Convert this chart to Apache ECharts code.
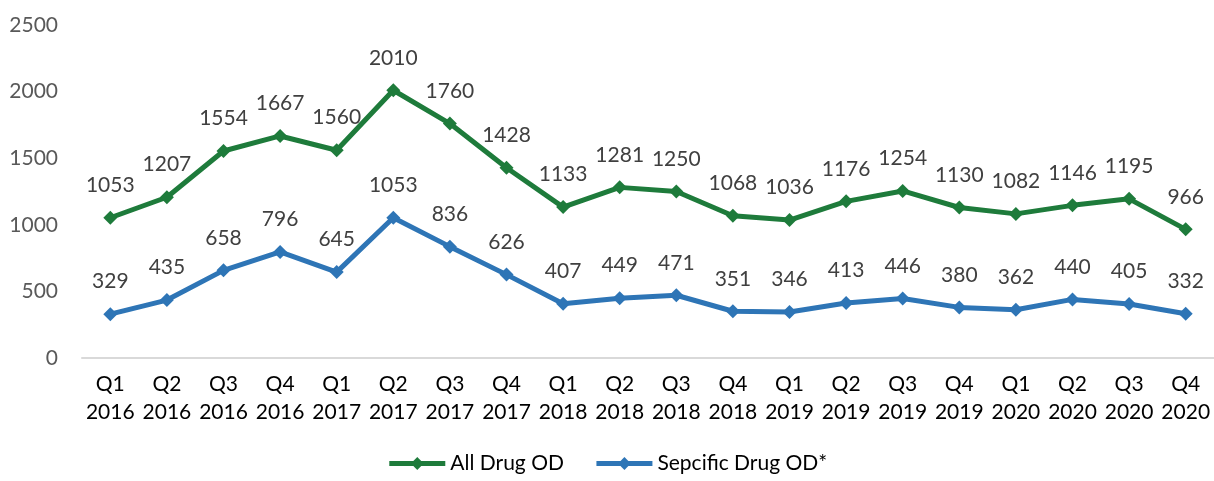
<!DOCTYPE html>
<html>
<head>
<meta charset="utf-8">
<style>
  html, body { margin: 0; padding: 0; background: #ffffff; }
  #chart { width: 1214px; height: 481px; }
</style>
<script src="https://cdn.jsdelivr.net/npm/echarts@6/dist/echarts.min.js"></script>
</head>
<body>
<div id="chart"></div>
<script>
// Quarterly overdose counts, 2016–2020
const quarters = ['Q1\n2016','Q2\n2016','Q3\n2016','Q4\n2016',
                  'Q1\n2017','Q2\n2017','Q3\n2017','Q4\n2017',
                  'Q1\n2018','Q2\n2018','Q3\n2018','Q4\n2018',
                  'Q1\n2019','Q2\n2019','Q3\n2019','Q4\n2019',
                  'Q1\n2020','Q2\n2020','Q3\n2020','Q4\n2020'];
const allDrugOD = [1053,1207,1554,1667,1560,2010,1760,1428,1133,1281,1250,1068,1036,1176,1254,1130,1082,1146,1195,966];
const specificDrugOD = [329,435,658,796,645,1053,836,626,407,449,471,351,346,413,446,380,362,440,405,332];
const seriesNames = ['All Drug OD', 'Sepcific Drug OD*'];
const yTicks = { min: 0, max: 2500, interval: 500 };

const FONT = 'Lato, "Open Sans", sans-serif';
const FS = 21;

const chart = echarts.init(document.getElementById('chart'), null, { renderer: 'canvas' });

function lineSeries(name, data, color) {
  return {
    name: name,
    type: 'line',
    data: data,
    symbol: 'diamond',
    symbolSize: 14,
    lineStyle: { color: color, width: 5 },
    itemStyle: { color: color },
    label: {
      show: true,
      position: 'top',
      distance: 15,
      color: '#404040',
      fontSize: FS,
      fontFamily: FONT
    },
    emphasis: { disabled: true },
    animation: false
  };
}

chart.setOption({
  backgroundColor: '#ffffff',
  grid: { left: 82, right: 0, top: 25, bottom: 123 },
  legend: {
    bottom: 2,
    left: 'center',
    itemWidth: 56,
    itemHeight: 16,
    itemGap: 30,
    lineStyle: { width: 5 },
    textStyle: { color: '#000000', fontSize: FS, fontFamily: FONT },
    data: seriesNames
  },
  xAxis: {
    type: 'category',
    data: quarters,
    boundaryGap: true,
    axisLine: { lineStyle: { color: '#d9d9d9', width: 2 } },
    axisTick: { show: false },
    axisLabel: {
      color: '#000000',
      fontSize: FS,
      fontFamily: FONT,
      lineHeight: 28,
      margin: 12,
      interval: 0
    }
  },
  yAxis: {
    type: 'value',
    min: yTicks.min,
    max: yTicks.max,
    interval: yTicks.interval,
    axisLine: { show: false },
    axisTick: { show: false },
    splitLine: { show: false },
    axisLabel: {
      color: '#595959',
      fontSize: FS,
      fontFamily: FONT,
      margin: 24,
      formatter: function (v) { return String(v); }
    }
  },
  series: [
    lineSeries(seriesNames[0], allDrugOD, '#1e7b3b'),
    lineSeries(seriesNames[1], specificDrugOD, '#2e75b6')
  ]
});
</script>
</body>
</html>
